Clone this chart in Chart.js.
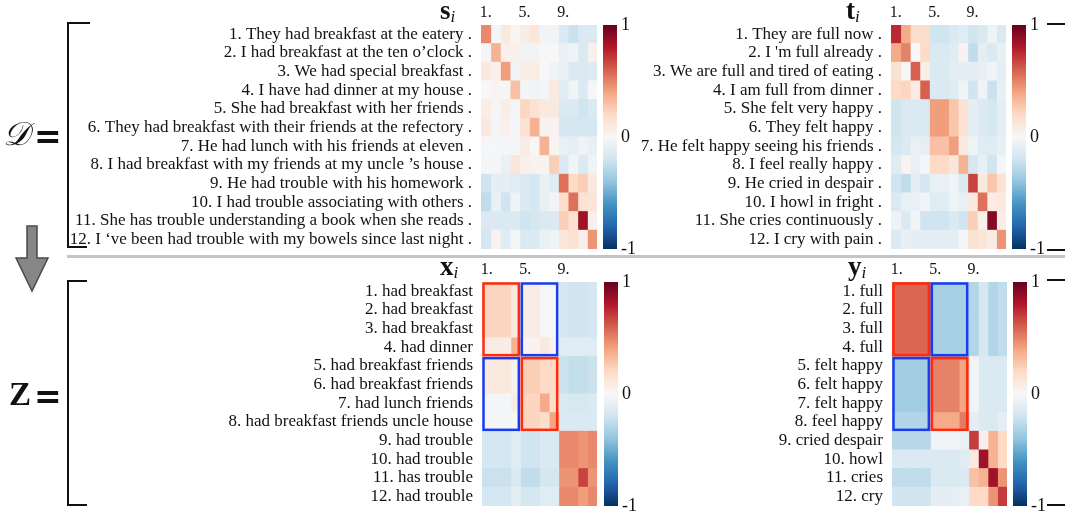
<!DOCTYPE html>
<html>
<head>
<meta charset="utf-8">
<script src="https://cdn.jsdelivr.net/npm/chart.js@4.4.0/dist/chart.umd.min.js"></script>
<style>
  body { margin: 0; background: #fff; }
  #page { position: relative; width: 1065px; height: 511px; overflow: hidden; font-family: "Liberation Serif", serif; color: #111; }
  canvas, .abs { position: absolute; }
  .title { font-size: 27px; font-weight: bold; }
  .title i { font-size: 17px; font-weight: normal; position: relative; top: 3px; }
  .line { background: #111; }
  .eq { font-family: "DejaVu Sans", sans-serif; font-weight: bold; font-size: 33px; line-height: 1; }
</style>
</head>
<body>
<div id="page">
  <canvas id="hmS" width="597" height="249" style="left:0;top:0"></canvas>
  <canvas id="hmT" width="386" height="249" style="left:620px;top:0"></canvas>
  <canvas id="hmX" width="597" height="249" style="left:0;top:257px"></canvas>
  <canvas id="hmY" width="387" height="249" style="left:620px;top:257px"></canvas>
  <canvas id="cbS" width="56" height="260" style="left:603px;top:0"></canvas>
  <canvas id="cbT" width="56" height="260" style="left:1012px;top:0"></canvas>
  <canvas id="cbX" width="56" height="511" style="left:604px;top:0"></canvas>
  <canvas id="cbY" width="56" height="511" style="left:1013px;top:0"></canvas>

  <div class="abs title" style="left:440px;top:-5px">s<i>i</i></div>
  <div class="abs title" style="left:846px;top:-5px">t<i>i</i></div>
  <div class="abs title" style="left:440px;top:251px">x<i>i</i></div>
  <div class="abs title" style="left:848px;top:251px">y<i>i</i></div>

  <div class="abs" style="left:3px;top:116px;font-size:33px"><i>𝒟</i></div>
  <div class="abs eq" style="left:34px;top:120px">=</div>
  <div class="abs" style="left:9px;top:376px;font-size:33px"><b>Z</b></div>
  <div class="abs eq" style="left:34px;top:380px">=</div>

  <!-- left brackets -->
  <div class="abs line" style="left:67px;top:22px;width:2px;height:226px"></div>
  <div class="abs line" style="left:67px;top:22px;width:23px;height:2px"></div>
  <div class="abs line" style="left:67px;top:246px;width:20px;height:2px"></div>
  <div class="abs line" style="left:67px;top:280px;width:2px;height:226px"></div>
  <div class="abs line" style="left:67px;top:280px;width:20px;height:2px"></div>
  <div class="abs line" style="left:67px;top:504px;width:20px;height:2px"></div>

  <!-- right bracket stubs -->
  <div class="abs line" style="left:1047px;top:23px;width:18px;height:2px"></div>
  <div class="abs line" style="left:1047px;top:249px;width:18px;height:2px"></div>
  <div class="abs line" style="left:1047px;top:279px;width:18px;height:2px"></div>
  <div class="abs line" style="left:1047px;top:504px;width:18px;height:2px"></div>

  <!-- separator and arrow -->
  <div class="abs" style="left:67px;top:255px;width:998px;height:3px;background:#c4c4c4"></div>
  <svg class="abs" style="left:0;top:0" width="60" height="300">
    <polygon points="27,226 37,226 37,258 48,258 32,291 16,258 27,258" fill="#868686" stroke="#4a4a4a" stroke-width="1.5"/>
  </svg>
</div>

<script>
// row labels
var sentencesS = [
  "1. They had breakfast at the eatery .",
  "2. I had breakfast at the ten o\u2019clock .",
  "3. We had special breakfast .",
  "4. I have had dinner at my house .",
  "5. She had breakfast with her friends .",
  "6. They had breakfast with their friends at the refectory .",
  "7. He had lunch with his friends at eleven .",
  "8. I had breakfast with my friends at my uncle \u2019s house .",
  "9. He had trouble with his homework .",
  "10. I had trouble associating with others .",
  "11. She has trouble understanding a book when she reads .",
  "12. I \u2018ve been had trouble with my bowels since last night ."
];
var sentencesT = [
  "1. They are full now .", "2. I 'm full already .", "3. We are full and tired of eating .",
  "4. I am full from dinner .", "5. She felt very happy .", "6. They felt happy .",
  "7. He felt happy seeing his friends .", "8. I feel really happy .", "9. He cried in despair .",
  "10. I howl in fright .", "11. She cries continuously .", "12. I cry with pain ."
];
var phrasesX = [
  "1. had breakfast", "2. had breakfast", "3. had breakfast", "4. had dinner",
  "5. had breakfast friends", "6. had breakfast friends", "7. had lunch friends",
  "8. had breakfast friends uncle house", "9. had trouble", "10. had trouble",
  "11. has trouble", "12. had trouble"
];
var phrasesY = [
  "1. full", "2. full", "3. full", "4. full", "5. felt happy", "6. felt happy",
  "7. felt happy", "8. feel happy", "9. cried despair", "10. howl", "11. cries", "12. cry"
];

// column tick labels (shown over columns 1, 5, 9)
var colTickLabels = ["1.", "5.", "9."];
var colTickIndex = [0, 4, 8];
var colorbarTicks = [-1, 0, 1];

// similarity matrices, rows x columns
var simS = [
  [ 0.48,-0.02, 0.10, 0.02, 0.08, 0.12,-0.03,-0.03,-0.15,-0.22,-0.15,-0.15],
  [-0.02, 0.35, 0.05, 0.05,-0.03,-0.03, 0.00, 0.00,-0.08,-0.05,-0.15, 0.05],
  [ 0.10, 0.05, 0.42,-0.03, 0.07, 0.07, 0.00,-0.05,-0.08,-0.15,-0.15,-0.13],
  [ 0.00, 0.03,-0.02, 0.30,-0.02,-0.03,-0.02, 0.10,-0.12,-0.03,-0.15,-0.01],
  [ 0.07,-0.02, 0.07,-0.02, 0.22, 0.15, 0.10, 0.10,-0.15,-0.15,-0.20,-0.15],
  [ 0.10,-0.02, 0.05,-0.02, 0.15, 0.35, 0.03, 0.03,-0.18,-0.18,-0.18,-0.18],
  [-0.01,-0.01,-0.02,-0.02, 0.08, 0.01, 0.35, 0.02,-0.08,-0.10,-0.05,-0.08],
  [-0.02,-0.02,-0.07, 0.12, 0.05, 0.03, 0.03, 0.25,-0.15,-0.03,-0.15,-0.05],
  [-0.20,-0.10,-0.10,-0.12,-0.15,-0.18,-0.08,-0.12, 0.55, 0.20, 0.25, 0.10],
  [-0.25,-0.07,-0.20,-0.05,-0.15,-0.18,-0.08,-0.03, 0.18, 0.55, 0.15, 0.13],
  [-0.15,-0.15,-0.15,-0.15,-0.20,-0.18,-0.15,-0.15, 0.25, 0.15, 0.85, 0.05],
  [-0.18, 0.03,-0.12,-0.02,-0.15,-0.15,-0.08,-0.05, 0.12, 0.15, 0.05, 0.45]
];
var simT = [
  [ 0.75, 0.38, 0.18, 0.18,-0.20,-0.20,-0.15,-0.12,-0.20,-0.15,-0.05,-0.15],
  [ 0.38, 0.50, 0.00, 0.20,-0.15,-0.15,-0.12, 0.03,-0.25,-0.10,-0.15,-0.08],
  [ 0.15, 0.00, 0.60, 0.07,-0.15,-0.15,-0.10,-0.10,-0.10,-0.08,-0.03,-0.10],
  [ 0.20, 0.22, 0.08, 0.60,-0.15,-0.15,-0.12,-0.03,-0.20,-0.05,-0.22,-0.08],
  [-0.20,-0.15,-0.15,-0.15, 0.42, 0.42, 0.28, 0.15,-0.10,-0.15,-0.18,-0.10],
  [-0.20,-0.15,-0.15,-0.15, 0.42, 0.42, 0.28, 0.15,-0.10,-0.15,-0.18,-0.10],
  [-0.18,-0.15,-0.08,-0.10, 0.30, 0.30, 0.42, 0.10,-0.05,-0.12,-0.12,-0.08],
  [-0.12, 0.03,-0.08,-0.02, 0.20, 0.20, 0.12, 0.35,-0.18,-0.08,-0.20,-0.02],
  [-0.20,-0.25,-0.10,-0.18,-0.08,-0.08,-0.05,-0.15, 0.68, 0.10, 0.28, 0.15],
  [-0.15,-0.08,-0.08,-0.03,-0.12,-0.12,-0.05,-0.08, 0.10, 0.55, 0.08, 0.10],
  [-0.05,-0.15,-0.03,-0.20,-0.20,-0.20,-0.15,-0.20, 0.25, 0.05, 0.92, 0.07],
  [-0.15,-0.08,-0.10,-0.10,-0.10,-0.10,-0.10,-0.02, 0.15, 0.12, 0.08, 0.45]
];
var simX = [
  [ 0.22, 0.22, 0.22, 0.10, 0.08, 0.08,-0.01,-0.01,-0.18,-0.20,-0.20,-0.18],
  [ 0.22, 0.22, 0.22, 0.10, 0.08, 0.08,-0.01,-0.01,-0.18,-0.20,-0.20,-0.18],
  [ 0.22, 0.22, 0.22, 0.10, 0.08, 0.08,-0.01,-0.01,-0.18,-0.20,-0.20,-0.18],
  [ 0.08, 0.08, 0.08, 0.35, 0.03, 0.03, 0.10, 0.03,-0.12,-0.12,-0.12,-0.12],
  [ 0.10, 0.10, 0.10, 0.03, 0.25, 0.25, 0.20, 0.20,-0.22,-0.24,-0.24,-0.22],
  [ 0.10, 0.10, 0.10, 0.03, 0.25, 0.25, 0.20, 0.20,-0.22,-0.24,-0.24,-0.22],
  [-0.02,-0.02,-0.02, 0.08, 0.22, 0.22, 0.38, 0.18,-0.15,-0.17,-0.17,-0.15],
  [-0.02,-0.02,-0.02, 0.00, 0.22, 0.22, 0.18, 0.40,-0.15,-0.15,-0.15,-0.15],
  [-0.18,-0.18,-0.18,-0.12,-0.20,-0.20,-0.15,-0.15, 0.48, 0.48, 0.45, 0.48],
  [-0.18,-0.18,-0.18,-0.12,-0.20,-0.20,-0.15,-0.15, 0.48, 0.48, 0.45, 0.48],
  [-0.22,-0.22,-0.22,-0.15,-0.25,-0.25,-0.18,-0.18, 0.45, 0.45, 0.68, 0.45],
  [-0.18,-0.18,-0.18,-0.10,-0.18,-0.18,-0.12,-0.12, 0.48, 0.48, 0.42, 0.48]
];
var simY = [
  [ 0.58, 0.58, 0.58, 0.58,-0.33,-0.33,-0.33,-0.33,-0.30,-0.18,-0.30,-0.25],
  [ 0.58, 0.58, 0.58, 0.58,-0.33,-0.33,-0.33,-0.33,-0.30,-0.18,-0.30,-0.25],
  [ 0.58, 0.58, 0.58, 0.58,-0.33,-0.33,-0.33,-0.33,-0.30,-0.18,-0.30,-0.25],
  [ 0.58, 0.58, 0.58, 0.58,-0.33,-0.33,-0.33,-0.33,-0.30,-0.18,-0.30,-0.25],
  [-0.35,-0.35,-0.35,-0.35, 0.50, 0.50, 0.50, 0.40,-0.03,-0.15,-0.15,-0.15],
  [-0.35,-0.35,-0.35,-0.35, 0.50, 0.50, 0.50, 0.40,-0.03,-0.15,-0.15,-0.15],
  [-0.35,-0.35,-0.35,-0.35, 0.50, 0.50, 0.50, 0.40,-0.03,-0.15,-0.15,-0.15],
  [-0.30,-0.30,-0.30,-0.30, 0.38, 0.38, 0.38, 0.52,-0.10,-0.15,-0.15,-0.10],
  [-0.28,-0.28,-0.28,-0.28,-0.03,-0.03,-0.03,-0.08, 0.70, 0.05, 0.35, 0.20],
  [-0.15,-0.15,-0.15,-0.15,-0.15,-0.15,-0.15,-0.12, 0.10, 0.85, 0.35, 0.20],
  [-0.25,-0.25,-0.25,-0.25,-0.15,-0.15,-0.15,-0.15, 0.30, 0.35, 0.85, 0.45],
  [-0.20,-0.20,-0.20,-0.20,-0.10,-0.10,-0.10,-0.08, 0.20, 0.20, 0.45, 0.70]
];

// block outlines on the word-level panels: [rowStart, rowEnd, colStart, colEnd, colour]
var groupBoxes = [
  [0, 4, 0, 4, "#ff2a10"],
  [0, 4, 4, 8, "#1a3cf0"],
  [4, 8, 0, 4, "#1a3cf0"],
  [4, 8, 4, 8, "#ff2a10"]
];

// RdBu_r colormap
var rdbuStops = ["#053061","#2166ac","#4393c3","#92c5de","#d1e5f0","#f7f7f7","#fddbc7","#f4a582","#d6604d","#b2182b","#67001f"];
function hex(c) { return [1, 3, 5].map(function(i) { return parseInt(c.substr(i, 2), 16); }); }
function rdbu(v) {
  var t = Math.max(0, Math.min(1, (v + 1) / 2)) * 10;
  var i = Math.min(9, Math.floor(t)), f = t - i;
  var a = hex(rdbuStops[i]), b = hex(rdbuStops[i + 1]);
  var c = a.map(function(x, k) { return Math.round(x + (b[k] - x) * f); });
  return "rgb(" + c.join(",") + ")";
}

Chart.defaults.font.family = "'Liberation Serif', serif";
Chart.defaults.color = "#111";

// no extra room for half tick labels at the axis ends
function noPad(s) { s.paddingTop = 0; s.paddingBottom = 0; s.paddingLeft = 0; s.paddingRight = 0; }

var boxPlugin = {
  id: "groupBoxes",
  afterDatasetsDraw: function(chart, args, opts) {
    if (!opts.boxes) return;
    var x = chart.scales.x, y = chart.scales.y, c = chart.ctx;
    var h = y.getPixelForValue(1) - y.getPixelForValue(0);
    opts.boxes.forEach(function(b) {
      var x0 = x.getPixelForValue(b[2]), x1 = x.getPixelForValue(b[3]);
      var y0 = y.getPixelForValue(b[0]) - h / 2, y1 = y.getPixelForValue(b[1] - 1) + h / 2;
      c.save();
      c.strokeStyle = b[4];
      c.lineWidth = 2.5;
      c.strokeRect(x0 + 1.5, y0 + 1.5, x1 - x0 - 3, y1 - y0 - 3);
      c.restore();
    });
  }
};

function heatmap(id, labels, matrix, leftWidth, boxes) {
  var datasets = matrix[0].map(function(_, j) {
    return {
      data: matrix.map(function() { return 1; }),
      backgroundColor: matrix.map(function(row) { return rdbu(row[j]); }),
      borderWidth: 0,
      inflateAmount: 0.5,
      barPercentage: 1,
      categoryPercentage: 1
    };
  });
  new Chart(document.getElementById(id), {
    type: "bar",
    data: { labels: labels, datasets: datasets },
    plugins: [boxPlugin],
    options: {
      indexAxis: "y",
      responsive: false,
      animation: false,
      layout: { padding: 0 },
      plugins: { legend: { display: false }, tooltip: { enabled: false }, groupBoxes: { boxes: boxes } },
      scales: {
        x: {
          position: "top", stacked: true, min: 0, max: matrix[0].length,
          grid: { display: false, drawTicks: false }, border: { display: false },
          afterBuildTicks: function(s) { s.ticks = colTickIndex.map(function(i) { return { value: i + 0.5 }; }); },
          afterFit: function(s) { s.height = 25; noPad(s); },
          ticks: { autoSkip: false, maxRotation: 0, padding: 3, font: { size: 16 },
                   callback: function(v, i) { return colTickLabels[i]; } }
        },
        y: {
          stacked: true,
          grid: { display: false, drawTicks: false }, border: { display: false },
          afterFit: function(s) { s.width = leftWidth; noPad(s); },
          ticks: { autoSkip: false, padding: 9, font: { size: 17 } }
        }
      }
    }
  });
}

function colorbar(id, top, bottomPad) {
  new Chart(document.getElementById(id), {
    type: "bar",
    data: { labels: [""], datasets: [{
      data: [[colorbarTicks[0], colorbarTicks[2]]],
      barPercentage: 1, categoryPercentage: 1, borderWidth: 0,
      backgroundColor: function(ctx) {
        var area = ctx.chart.chartArea;
        if (!area) return null;
        var g = ctx.chart.ctx.createLinearGradient(0, area.bottom, 0, area.top);
        rdbuStops.forEach(function(s, i) { g.addColorStop(i / 10, s); });
        return g;
      }
    }] },
    options: {
      responsive: false,
      animation: false,
      layout: { padding: { top: top, bottom: bottomPad } },
      plugins: { legend: { display: false }, tooltip: { enabled: false } },
      scales: {
        x: { display: false },
        y: {
          position: "right", min: -1, max: 1,
          grid: { display: false, drawTicks: false }, border: { display: false },
          afterBuildTicks: function(s) { s.ticks = colorbarTicks.map(function(v) { return { value: v }; }); },
          afterFit: function(s) { s.width = 42; noPad(s); },
          ticks: { padding: 4, font: { size: 18 } }
        }
      }
    }
  });
}

heatmap("hmS", sentencesS, simS, 481, null);
heatmap("hmT", sentencesT, simT, 271, null);
heatmap("hmX", phrasesX, simX, 482, groupBoxes);
heatmap("hmY", phrasesY, simY, 272, groupBoxes);
colorbar("cbS", 25, 11);
colorbar("cbT", 25, 11);
colorbar("cbX", 282, 5);
colorbar("cbY", 282, 5);
</script>
</body>
</html>
